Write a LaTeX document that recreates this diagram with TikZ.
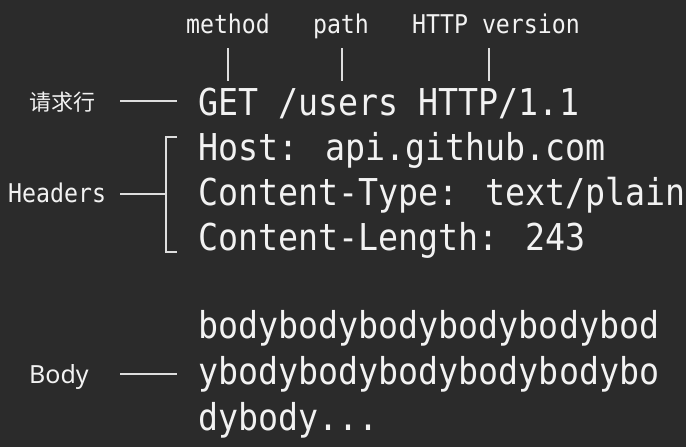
\documentclass[tikz,border=0pt]{standalone}
\usepackage{fontspec}
\newfontfamily\mono[FakeStretch=0.9]{DejaVu Sans Mono}
\newfontfamily\cjk{Noto Sans CJK SC}
\newfontfamily\labsans{Noto Sans}
\definecolor{bg}{HTML}{2B2B2B}
\definecolor{fg}{HTML}{F2F2F2}
\begin{document}
\begin{tikzpicture}[x=1pt,y=-1pt,
  code/.style={anchor=base west,inner sep=0pt,text=fg,font=\mono\fontsize{37}{37}\selectfont},
  tag/.style={anchor=base,inner sep=0pt,text=fg,font=\mono\fontsize{25.8}{26}\selectfont},
  side/.style={anchor=base,inner sep=0pt,text=fg},
  wire/.style={draw=fg!90!bg,line width=1.3pt}]
\fill[bg] (0,0) rectangle (686,447);
\useasboundingbox (0,0) rectangle (686,447);
% top labels
\node[tag] (method) at (228,33) {method};
\node[tag] (path) at (341,33) {path};
\node[tag] (version) at (496,33) {HTTP version};
\coordinate (m1) at (228,48); \coordinate (m2) at (228,81);
\coordinate (p1) at (342,48); \coordinate (p2) at (342,81);
\coordinate (v1) at (489,48); \coordinate (v2) at (489,81);
\draw[wire] (m1) -- (m2);
\draw[wire] (p1) -- (p2);
\draw[wire] (v1) -- (v2);
% request line
\node[code] (req) at (198,115) {GET /users HTTP/1.1};
\node[side,anchor=center,font=\cjk\fontsize{22}{22}\selectfont] (reqlab) at (63,102) {请求行};
\coordinate (r1) at (120,101); \coordinate (r2) at (177,101);
\draw[wire] (r1) -- (r2);
% headers
\node[code] (h1) at (198,160) {Host: api.github.com};
\node[code] (h2) at (198,205) {Content-Type: text/plain};
\node[code] (h3) at (198,250) {Content-Length: 243};
\node[tag,anchor=base west] (hlab) at (8,202) {Headers};
\coordinate (hb1) at (177,137); \coordinate (hb2) at (166,137);
\coordinate (hb3) at (166,252); \coordinate (hb4) at (177,252);
\coordinate (hm) at (166,194); \coordinate (hl) at (120,194);
\draw[wire] (hb1) -- (hb2) -- (hb3) -- (hb4);
\draw[wire] (hl) -- (hm);
% body
\node[code] (b1) at (198,338) {bodybodybodybodybodybod};
\node[code] (b2) at (198,384) {ybodybodybodybodybodybo};
\node[code] (b3) at (198,430) {dybody...};
\node[side,anchor=base west,font=\labsans\fontsize{25}{25}\selectfont] (blab) at (29,383) {Body};
\coordinate (bl1) at (120,374); \coordinate (bl2) at (177,374);
\draw[wire] (bl1) -- (bl2);
\end{tikzpicture}
\end{document}
